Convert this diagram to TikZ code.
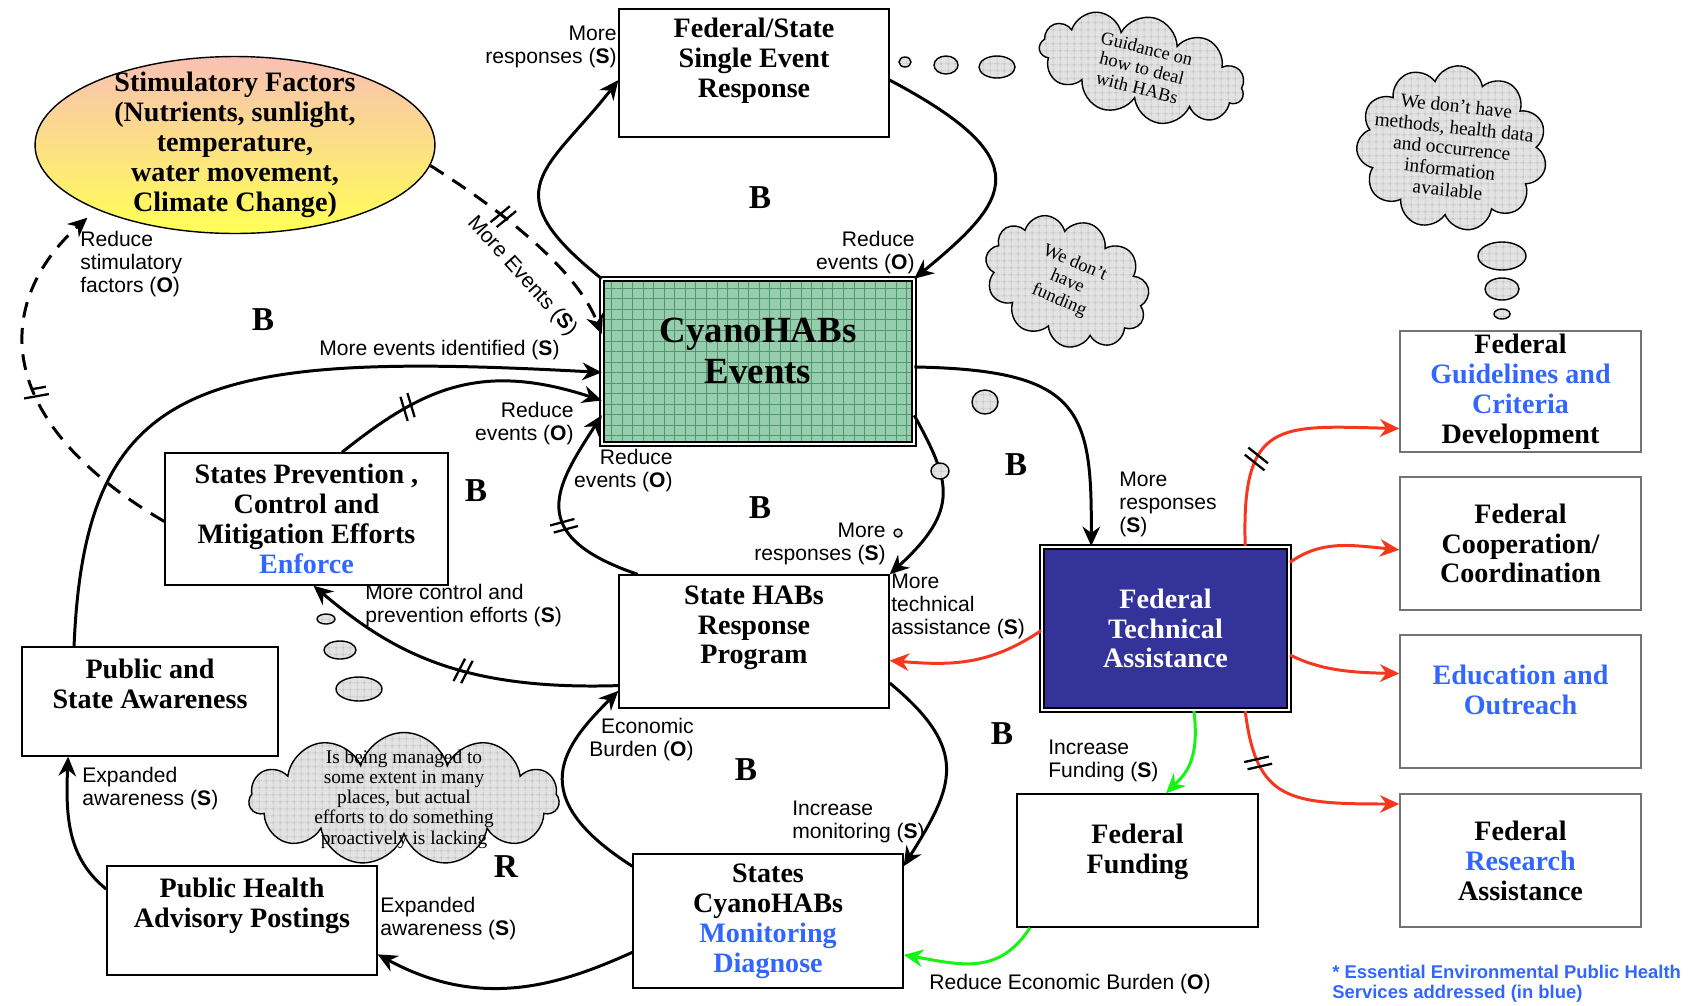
\documentclass[tikz,border=0pt]{standalone}
\usepackage{fontspec}
\setmainfont{Liberation Serif}
\newfontfamily\arialfont{Liberation Sans}
\usetikzlibrary{arrows.meta,shapes.geometric,shapes.symbols,patterns.meta,decorations.markings}
\definecolor{hsblue}{RGB}{51,102,255}
\definecolor{fedred}{RGB}{245,55,30}
\definecolor{fundgreen}{RGB}{20,245,20}
\definecolor{eventgreen}{RGB}{150,205,172}
\definecolor{eventgrid}{RGB}{80,150,110}
\definecolor{ftablue}{RGB}{51,51,153}
\definecolor{stimtop}{RGB}{249,192,180}
\definecolor{stimbot}{RGB}{255,255,85}
\newcommand{\lnk}[1]{(\textbf{#1})}
\newcommand{\hs}[1]{\textcolor{hsblue}{#1}}

\begin{document}
\begin{tikzpicture}[x=0.02cm, y=0.02cm,
    box/.style={draw, line width=0.8pt, align=center, inner xsep=2pt, inner ysep=0pt,
      font=\fontsize{16}{17}\selectfont\bfseries},
    fedbox/.style={box, draw=black!55, minimum width=4.82cm, minimum height=2.66cm},
    framed/.style={box, line width=1.2pt, double=white, double distance=1.4pt},
    lbl/.style={font=\arialfont\fontsize{12}{13}\selectfont, inner sep=0pt},
    loopname/.style={font=\fontsize{19}{20}\selectfont\bfseries},
    grid/.style={preaction={fill=gray!22}, pattern={Hatch[distance=4pt, line width=0.25pt]}, pattern color=gray!55},
    thought/.style={cloud, cloud puffs=11, cloud ignores aspect, draw, line width=0.8pt, grid, align=center,
      inner sep=0pt, font=\fontsize{10.5}{11.5}\selectfont},
    bubble/.style={draw, line width=0.8pt, grid},
    link/.style={line width=1.7pt, -{Stealth[length=11pt, width=10pt]}},
    delay/.style={link, dash pattern=on 9pt off 6pt},
    tech/.style={link, fedred},
    fund/.style={link, fundgreen},
    hash/.style={postaction={decorate, decoration={markings,
      mark=at position #1 with {\draw[-, solid, black, line width=1.3pt] (-3pt,-7pt) -- (0pt,7pt) (1.5pt,-7pt) -- (4.5pt,7pt);}}}}]
\useasboundingbox (0,0) rectangle (1700,-1005);

\node[ellipse, draw, line width=0.8pt, top color=stimtop, bottom color=stimbot, minimum width=8cm, minimum height=3.54cm,
  inner xsep=0pt, inner ysep=-8pt, align=center, font=\fontsize{16}{17}\selectfont\bfseries] (stim) at (235,-145)
  {Stimulatory Factors\\(Nutrients, sunlight,\\temperature,\\water movement,\\Climate Change)};
\node[box, minimum width=5.4cm, minimum height=2.56cm, text depth=17pt] (single) at (754,-73) {Federal/State\\Single Event\\Response};
\node[framed, preaction={fill=eventgreen}, pattern={Hatch[distance=6pt, line width=0.35pt]}, pattern color=eventgrid,
  minimum width=6.24cm, minimum height=3.3cm, text depth=12pt, font=\fontsize{21}{23}\selectfont\bfseries] (events) at (758,-361.5) {CyanoHABs\\Events};
\node[box, minimum width=5.66cm, minimum height=2.64cm] (prevent) at (306.5,-519) {States Prevention ,\\Control and\\Mitigation Efforts\\\hs{Enforce}};
\node[box, minimum width=5.12cm, minimum height=2.18cm, text depth=20pt] (aware) at (150,-701.5) {Public and\\State Awareness};
\node[box, minimum width=5.4cm, minimum height=2.66cm, text depth=19pt] (program) at (754,-641.5) {State HABs\\Response\\Program};
\node[box, minimum width=5.4cm, minimum height=2.68cm] (monitor) at (768,-921) {States\\CyanoHABs\\\hs{Monitoring}\\\hs{Diagnose}};
\node[box, minimum width=5.4cm, minimum height=2.18cm, text depth=20pt] (posting) at (242,-920.5) {Public Health\\Advisory Postings};
\node[framed, fill=ftablue, text=white, minimum width=4.94cm, minimum height=3.26cm] (techhelp) at (1165.5,-628.5) {Federal\\Technical\\Assistance};
\node[box, minimum width=4.82cm, minimum height=2.66cm, text depth=13pt] (funding) at (1137.5,-860.5) {Federal\\Funding};
\node[fedbox, minimum height=2.42cm] (guide) at (1520.5,-391.5) {Federal\\\hs{Guidelines and}\\\hs{Criteria}\\Development};
\node[fedbox] (coop) at (1520.5,-543.5) {Federal\\Cooperation/\\Coordination};
\node[fedbox, text depth=13pt] (edu) at (1520.5,-701.5) {\hs{Education and}\\\hs{Outreach}};
\node[fedbox] (research) at (1520.5,-860.5) {Federal\\\hs{Research}\\Assistance};

\draw[delay, hash=0.36] (stim.-6) .. controls +(70,-44) and +(-25,65) .. (events.170);
\draw[delay, hash=0.47, shorten >=7pt] (prevent.181) .. controls +(-175,102) and +(-102,-91) .. (stim.205);
\draw[link] (events.north west) .. controls +(-112,89) and +(-70,-90) .. (single.183);
\draw[link] (single.-3) .. controls +(151,-80) and +(96,79) .. (events.north east);
\draw[link] (aware.144) .. controls +(11,267) and +(-402,22) .. (events.184);
\draw[link, hash=0.28] (prevent.62) .. controls +(79,63) and +(-122,40) .. (events.194);
\draw[link, hash=0.42] (program.150) .. controls +(-115,39) and +(-45,-70) .. (events.199);
\draw[link] (events.-19) .. controls +(36,-66) and +(71,65) .. (program.north east);
\draw[link] (events.-2) .. controls +(166,-3) and +(1,137) .. (techhelp.132);
\draw[tech] (techhelp.181) .. controls +(-52,-35) and +(61,-5) .. (program.-8);
\draw[link, hash=0.47] (program.198) .. controls +(-159,-5) and +(77,-65) .. (prevent.-84);
\draw[link] (monitor.158) .. controls +(-110,70) and +(-55,-55) .. (program.200);
\draw[link] (program.-17) .. controls +(81,-67) and +(50,80) .. (monitor.22);
\draw[link] (monitor.193) .. controls +(-73,-33) and +(103,-56) .. (posting.-14);
\draw[link] (posting.167) .. controls +(-37,30) and +(-3,-64) .. (aware.214);
\draw[tech, hash=0.36] (techhelp.46) .. controls +(-4,127) and +(-120,3) .. (guide.197);
\draw[tech] (techhelp.28) .. controls +(31,22) and +(-50,5) .. (coop.183);
\draw[tech] (techhelp.-12) .. controls +(30,-15) and +(-50,1) .. (edu.167);
\draw[tech, hash=0.25] (techhelp.-46) .. controls +(11,-90) and +(-110,0) .. (research.155);
\draw[fund] (techhelp.-71) .. controls +(6,-50) and +(19,19) .. (funding.67);
\draw[fund] (funding.212) .. controls +(-31,-48) and +(57,-10) .. (monitor.-14);

\node[lbl, anchor=north east, align=right] (l1) at (617,-26) {More\\responses \lnk{S}};
\node[lbl, anchor=north east, align=right] (l2) at (915,-231) {Reduce\\events \lnk{O}};
\node[lbl, anchor=north west, align=left] (l3) at (80,-231) {Reduce\\stimulatory\\factors \lnk{O}};
\node[lbl, anchor=center, rotate=-48] (l4) at (522,-276) {More Events \lnk{S}};
\node[lbl, anchor=west] (l5) at (319,-350) {More events identified \lnk{S}};
\node[lbl, anchor=north east, align=right] (l6) at (574,-402) {Reduce\\events \lnk{O}};
\node[lbl, anchor=north east, align=right] (l7) at (673,-449) {Reduce\\events \lnk{O}};
\node[lbl, anchor=north east, align=right] (l8) at (886,-523) {More\\responses \lnk{S}};
\node[lbl, anchor=north west, align=left] (l9) at (1119,-472) {More\\responses\\\lnk{S}};
\node[lbl, anchor=north west, align=left] (l10) at (891,-574) {More\\technical\\assistance \lnk{S}};
\node[lbl, anchor=north west, align=left] (l11) at (365,-584) {More control and\\prevention efforts \lnk{S}};
\node[lbl, anchor=north east, align=right] (l12) at (694,-718) {Economic\\Burden \lnk{O}};
\node[lbl, anchor=north west, align=left] (l13) at (792,-801) {Increase\\monitoring \lnk{S}};
\node[lbl, anchor=north west, align=left] (l14) at (380,-897) {Expanded\\awareness \lnk{S}};
\node[lbl, anchor=north west, align=left] (l15) at (82,-767) {Expanded\\awareness \lnk{S}};
\node[lbl, anchor=north west, align=left] (l16) at (1048,-740) {Increase\\Funding \lnk{S}};
\node[lbl, anchor=west] (l17) at (929,-984) {Reduce Economic Burden \lnk{O}};
\node[lbl, anchor=north west, align=left, text=hsblue, font=\arialfont\bfseries\fontsize{10.5}{11.5}\selectfont] (note) at (1332,-965)
  {* Essential Environmental Public Health\\Services addressed (in blue)};

\node[loopname] (b1) at (760,-198) {B};
\node[loopname] (b2) at (263,-320) {B};
\node[loopname] (b3) at (476,-491) {B};
\node[loopname] (b4) at (760,-508) {B};
\node[loopname] (b5) at (1016,-465) {B};
\node[loopname] (b6) at (746,-770) {B};
\node[loopname] (b7) at (1002,-734) {B};
\node[loopname] (r1) at (506,-867) {R};

\draw[bubble] (905,-62) ellipse [x radius=6, y radius=5];
\draw[bubble] (946,-65) ellipse [x radius=12, y radius=9];
\draw[bubble] (997,-67) ellipse [x radius=18, y radius=11];
\draw[bubble] (1502,-256) ellipse [x radius=24, y radius=14];
\draw[bubble] (1502,-289) ellipse [x radius=17, y radius=11];
\draw[bubble] (1502,-314) ellipse [x radius=8, y radius=5];
\draw[bubble] (326,-619) ellipse [x radius=9, y radius=5];
\draw[bubble] (340,-650) ellipse [x radius=16, y radius=9];
\draw[bubble] (359,-689) ellipse [x radius=23, y radius=12];
\draw[bubble] (985,-402) ellipse [x radius=13, y radius=12];
\draw[bubble] (940,-471) ellipse [x radius=9, y radius=8];
\draw[bubble] (898,-533) ellipse [x radius=4, y radius=4];

\node[thought, minimum width=4.2cm, minimum height=2.06cm, inner ysep=-6pt, rotate=-14] (guidance) at (1142,-68) {Guidance on\\how to deal\\with HABs};
\node[thought, minimum width=3.4cm, minimum height=2.5cm, rotate=-23] (nofunds) at (1067,-282) {We don’t\\have\\funding};
\node[thought, minimum width=3.82cm, minimum height=3.3cm, inner xsep=-20pt, inner ysep=-4pt, rotate=-6, font=\fontsize{11}{12}\selectfont] (nodata) at (1452,-148) {We don’t have\\methods, health data\\and occurrence\\information\\available};
\node[thought, minimum width=6.2cm, minimum height=2.66cm, inner xsep=-6pt, inner ysep=-12pt, font=\fontsize{11}{11.5}\selectfont] (managed) at (404,-799) {Is being managed to\\some extent in many\\places, but actual\\efforts to do something\\proactively is lacking};
\end{tikzpicture}
\end{document}
